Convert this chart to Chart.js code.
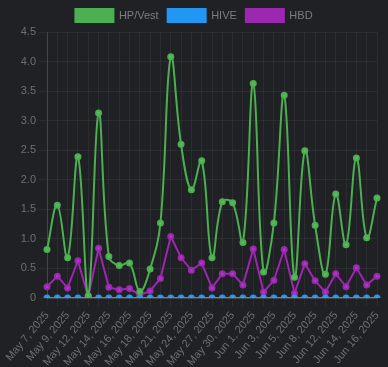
<!DOCTYPE html>
<html>
<head>
<meta charset="utf-8">
<script src="https://cdn.jsdelivr.net/npm/chart.js@4/dist/chart.umd.min.js"></script>
<style>
html,body{margin:0;padding:0;background:#1f2124;}
#wrap{width:388px;height:367px;}
</style>
</head>
<body>
<div id="wrap"><canvas id="c" width="388" height="367"></canvas></div>
<script>
const labels = ["May 7, 2025","May 8, 2025","May 9, 2025","May 11, 2025","May 12, 2025","May 13, 2025","May 14, 2025","May 15, 2025","May 16, 2025","May 17, 2025","May 18, 2025","May 20, 2025","May 21, 2025","May 22, 2025","May 24, 2025","May 25, 2025","May 27, 2025","May 28, 2025","May 30, 2025","May 31, 2025","Jun 1, 2025","Jun 2, 2025","Jun 3, 2025","Jun 4, 2025","Jun 5, 2025","Jun 7, 2025","Jun 8, 2025","Jun 10, 2025","Jun 12, 2025","Jun 13, 2025","Jun 14, 2025","Jun 15, 2025","Jun 16, 2025"];
const hpVest = [0.82,1.57,0.68,2.39,0.04,3.13,0.70,0.55,0.59,0.11,0.49,1.27,4.08,2.60,1.83,2.32,0.68,1.63,1.61,0.94,3.63,0.44,1.27,3.43,0.35,2.49,1.23,0.40,1.76,0.90,2.37,1.02,1.69];
const hive = [0,0,0,0,0,0,0,0,0,0,0,0,0,0,0,0,0,0,0,0,0,0,0,0,0,0,0,0,0,0,0,0,0];
const hbd = [0.19,0.37,0.17,0.63,0.02,0.84,0.18,0.14,0.16,0.05,0.12,0.33,1.04,0.68,0.47,0.59,0.17,0.41,0.41,0.22,0.83,0.10,0.30,0.82,0.08,0.58,0.29,0.10,0.41,0.19,0.51,0.22,0.37];
const yTicks = [0,0.5,1,1.5,2,2.5,3,3.5,4,4.5];

const bg = {
  id:'bg',
  beforeDraw(chart){
    const c = chart.ctx;
    c.save();
    c.fillStyle = '#1f2124';
    c.fillRect(0,0,chart.width,chart.height);
    c.restore();
  }
};

new Chart(document.getElementById('c'), {
  type: 'line',
  data: {
    labels: labels,
    datasets: [
      {label:'HP/Vest', data:hpVest, borderColor:'#4caf50', backgroundColor:'#4caf50', pointBackgroundColor:'#5cb860', borderWidth:2, pointRadius:2.5, tension:0.4},
      {label:'HIVE', data:hive, borderColor:'#2196f3', backgroundColor:'#2196f3', pointBackgroundColor:'#3aa4f5', borderWidth:2, pointRadius:2.5, tension:0},
      {label:'HBD', data:hbd, borderColor:'#9c27b0', backgroundColor:'#9c27b0', pointBackgroundColor:'#a93cc0', borderWidth:2, pointRadius:2.5, tension:0}
    ]
  },
  options: {
    responsive: false,
    animation: false,
    plugins: {
      legend: {
        position:'top',
        labels: {color:'#7d7d7d', boxWidth:38, boxHeight:13, padding:9, font:{size:11}}
      },
      tooltip:{enabled:false}
    },
    scales: {
      x: {
        grid:{color:'rgba(255,255,255,0.05)'},
        border:{color:'rgba(255,255,255,0.12)'},
        afterFit:function(s){ s.height = 69; s.paddingRight = 11; },
        ticks:{
          color:'#6f6f6f', font:{size:11}, autoSkip:false, maxRotation:50, minRotation:50,
          callback:function(v,i){ return i%2===0 ? labels[i] : ''; }
        }
      },
      y: {
        min:0, max:4.5,
        afterFit:function(s){ s.width = 47; },
        afterBuildTicks:function(axis){ axis.ticks = yTicks.map(v=>({value:v})); },
        grid:{color:'rgba(255,255,255,0.05)'},
        border:{color:'rgba(255,255,255,0.12)'},
        ticks:{color:'#6f6f6f', font:{size:11}}
      }
    }
  },
  plugins:[bg]
});
</script>
</body>
</html>
